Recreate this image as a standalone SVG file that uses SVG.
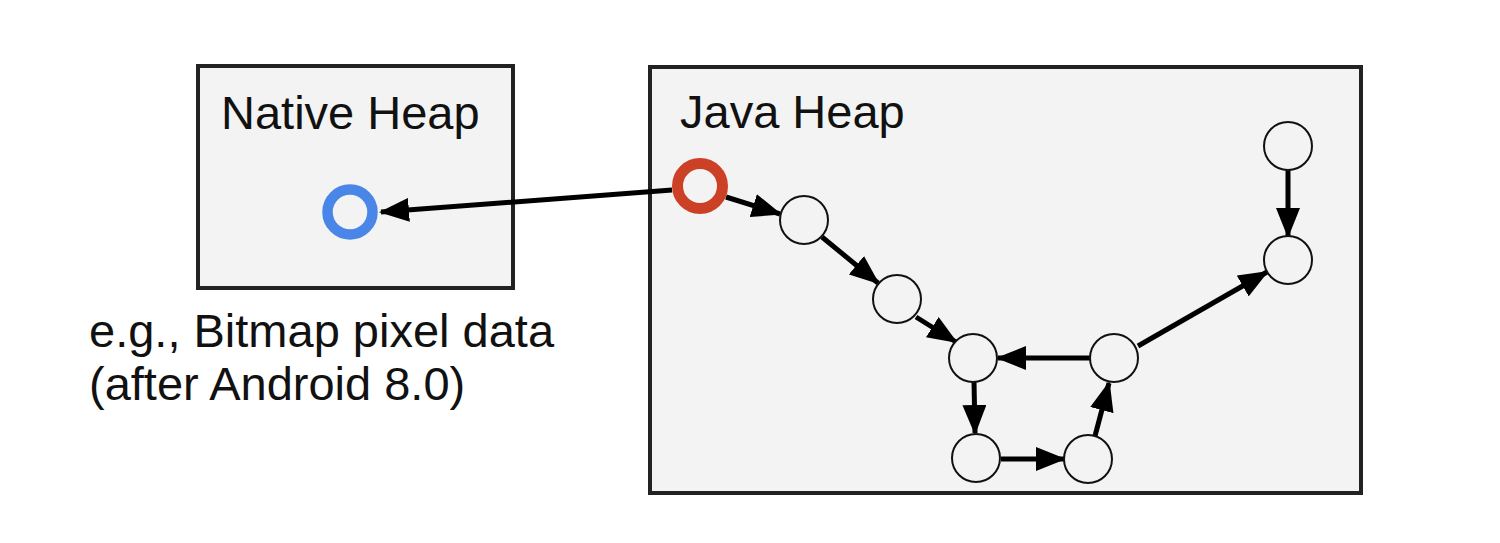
<svg xmlns="http://www.w3.org/2000/svg" width="1500" height="543" viewBox="0 0 1500 543">
<defs>
<style>
.box{fill:#f3f3f3;stroke:#222;stroke-width:4}
.lbl{font-family:"Liberation Sans",Arial,sans-serif;font-size:47px;fill:#111}
.obj{fill:#f3f3f3;stroke:#111;stroke-width:2}
.edge{stroke:#000;stroke-width:5;fill:none;marker-end:url(#ah)}
</style>
<marker id="ah" markerWidth="30" markerHeight="24" refX="28" refY="12" orient="auto" markerUnits="userSpaceOnUse">
<path d="M0,0 L30,12 L0,24 Z" fill="#000"/>
</marker>
</defs>
<rect width="1500" height="543" fill="#ffffff"/>
<g id="native-heap">
<rect class="box" x="198" y="66" width="315" height="222"/>
<text class="lbl" x="221" y="129">Native Heap</text>
</g>
<g id="java-heap">
<rect class="box" x="650" y="67" width="711" height="426"/>
<text class="lbl" x="680" y="128">Java Heap</text>
</g>
<g id="caption">
<text class="lbl" x="89" y="347">e.g., Bitmap pixel data</text>
<text class="lbl" x="89" y="400">(after Android 8.0)</text>
</g>
<g id="connectors">
<line class="edge" x1="672" y1="190" x2="381" y2="212"/>
<line class="edge" x1="726" y1="197" x2="780" y2="214"/>
<line class="edge" x1="822" y1="237" x2="878" y2="283"/>
<line class="edge" x1="916" y1="317" x2="956" y2="342"/>
<line class="edge" x1="1090" y1="358" x2="998" y2="358"/>
<line class="edge" x1="974" y1="382" x2="975" y2="433"/>
<line class="edge" x1="1001" y1="459" x2="1064" y2="459"/>
<line class="edge" x1="1095" y1="436" x2="1109" y2="383"/>
<line class="edge" x1="1138" y1="346" x2="1267" y2="272"/>
<line class="edge" x1="1288" y1="170" x2="1288" y2="236"/>
</g>
<g id="bitmap-native"><circle cx="350" cy="212" r="22.5" fill="#f3f3f3" stroke="#4a86e8" stroke-width="10.5"/></g>
<g id="bitmap-java"><circle cx="700" cy="186" r="22.5" fill="#f3f3f3" stroke="#cc4125" stroke-width="11"/></g>
<g id="n1"><circle class="obj" cx="804" cy="220" r="24"/></g>
<g id="n2"><circle class="obj" cx="897" cy="299" r="24"/></g>
<g id="n3"><circle class="obj" cx="973" cy="358" r="24"/></g>
<g id="n4"><circle class="obj" cx="976" cy="458" r="24"/></g>
<g id="n5"><circle class="obj" cx="1088" cy="459" r="24"/></g>
<g id="n6"><circle class="obj" cx="1114" cy="358" r="24"/></g>
<g id="n7"><circle class="obj" cx="1288" cy="260" r="24"/></g>
<g id="n8"><circle class="obj" cx="1288" cy="146" r="24"/></g>
</svg>
